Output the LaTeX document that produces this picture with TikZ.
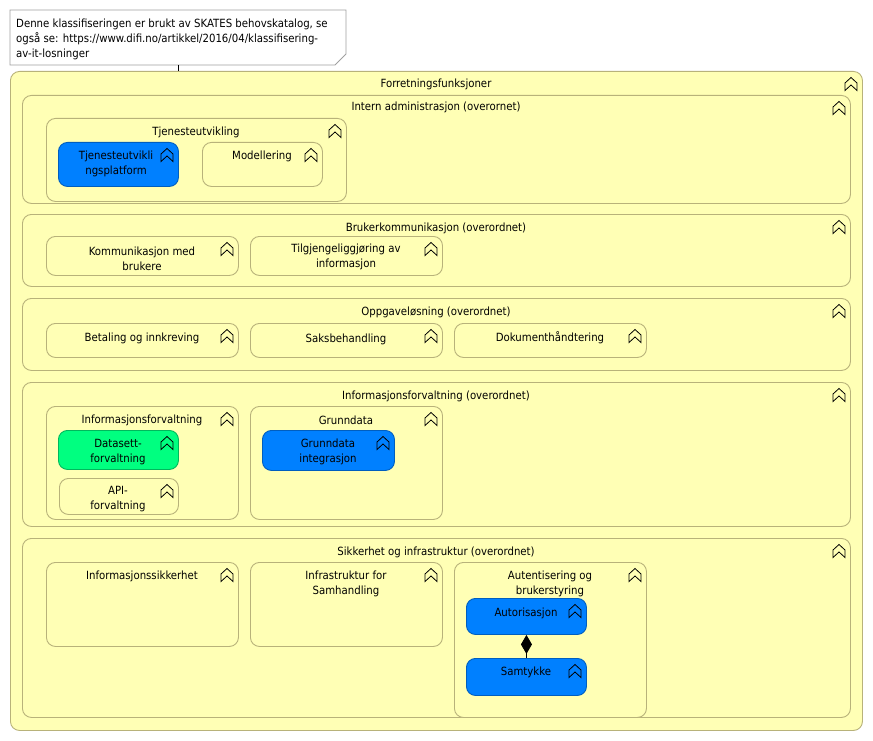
\documentclass[tikz,border=0pt]{standalone}
\usepackage{fontspec}
\setmainfont{DejaVu Sans Condensed}
\usetikzlibrary{arrows.meta}

\definecolor{funcfill}{HTML}{FFFFB5}
\definecolor{funcline}{HTML}{B8B27A}
\definecolor{bluefill}{HTML}{0080FF}
\definecolor{blueline}{HTML}{005EBF}
\definecolor{greenfill}{HTML}{00FF80}
\definecolor{greenline}{HTML}{00B85C}
\definecolor{noteline}{HTML}{A0A0A0}

\tikzset{
  fnbox/.style={draw=funcline, fill=funcfill, line width=0.9pt, rounded corners=9pt,
    rectangle, inner sep=0pt, anchor=north west},
  fnblue/.style={fnbox, draw=blueline, fill=bluefill},
  fngreen/.style={fnbox, draw=greenline, fill=greenfill},
  lbl/.style={font=\fontsize{11.3}{15}\selectfont, align=center, inner sep=0pt,
    text=black, yshift=-1pt},
  fnicon/.pic={
    \draw[line width=0.8pt, line join=miter]
      (-6,6.5) -- (-6,-1) -- (0,-6.5) -- (6,-1) -- (6,6.5) -- (0,1) -- cycle;
  }
}

% #1 name, #2 left, #3 top, #4 right, #5 bottom, #6 style
\newcommand\fnelem[6]{%
  \pgfmathsetmacro\elw{#4-#2}%
  \pgfmathsetmacro\elh{#5-#3}%
  \node[#6, minimum width=\elw pt, minimum height=\elh pt] (#1) at (#2,#3) {};
  \pic at (#4-11,#3+13) {fnicon};
}

\begin{document}
\begin{tikzpicture}[x=1pt, y=-1pt]
\useasboundingbox (0,0) rectangle (873,741);

% outer function
\fnelem{forr}{10}{71}{862}{730}{fnbox}
\node[lbl] (t-forr) at (436,83) {Forretningsfunksjoner};

% note and its link
\draw[noteline, fill=white, line width=0.9pt]
  (10,10) -- (346,10) -- (346,54) -- (335,65) -- (10,65) -- cycle;
\node[lbl, align=left, anchor=north west, yshift=0pt] (note) at (16,17.5)
  {Denne klassifiseringen er brukt av SKATES behovskatalog, se\\
   også se: https://www.difi.no/artikkel/2016/04/klassifisering-\\
   av-it-losninger};
\coordinate (note-s) at (178,65);
\draw[line width=0.9pt] (note-s) -- (note-s |- forr.north);

% Intern administrasjon
\fnelem{intern}{22}{95}{850}{203}{fnbox}
\node[lbl] (t-intern) at (436,106) {Intern administrasjon (overornet)};
\fnelem{tjen}{46}{118}{346}{201}{fnbox}
\node[lbl] (t-tjen) at (196,131) {Tjenesteutvikling};
\fnelem{tplat}{58}{142}{178}{186}{fnblue}
\node[lbl] (t-tplat) at (116,162.5) {Tjenesteutvikli\\ngsplatform};
\fnelem{model}{202}{142}{322}{186}{fnbox}
\node[lbl] (t-model) at (262,155) {Modellering};

% Brukerkommunikasjon
\fnelem{bruk}{22}{214}{850}{286}{fnbox}
\node[lbl] (t-bruk) at (436,227) {Brukerkommunikasjon (overordnet)};
\fnelem{komm}{46}{236}{238}{275}{fnbox}
\node[lbl] (t-komm) at (142,258) {Kommunikasjon med\\brukere};
\fnelem{tilg}{250}{236}{442}{275}{fnbox}
\node[lbl] (t-tilg) at (346,255.5) {Tilgjengeliggjøring av\\informasjon};

% Oppgaveløsning
\fnelem{oppg}{22}{298}{850}{370}{fnbox}
\node[lbl] (t-oppg) at (436,311) {Oppgaveløsning (overordnet)};
\fnelem{betal}{46}{323}{238}{357}{fnbox}
\node[lbl] (t-betal) at (142,337) {Betaling og innkreving};
\fnelem{saks}{250}{323}{442}{357}{fnbox}
\node[lbl] (t-saks) at (346,338) {Saksbehandling};
\fnelem{dok}{454}{323}{646}{357}{fnbox}
\node[lbl] (t-dok) at (550,337) {Dokumenthåndtering};

% Informasjonsforvaltning
\fnelem{infof}{22}{382}{850}{526}{fnbox}
\node[lbl] (t-infof) at (436,395) {Informasjonsforvaltning (overordnet)};
\fnelem{infoin}{46}{406}{238}{519}{fnbox}
\node[lbl] (t-infoin) at (142,419) {Informasjonsforvaltning};
\fnelem{dataset}{58}{430}{178}{469}{fngreen}
\node[lbl] (t-dataset) at (118,451) {Datasett-\\forvaltning};
\fnelem{api}{59}{478}{178}{514}{fnbox}
\begin{scope}
  \clip (59,478) rectangle (178,512);
  \node[lbl] (t-api) at (118,498) {API-\\forvaltning};
\end{scope}
\fnelem{grunn}{250}{406}{442}{519}{fnbox}
\node[lbl] (t-grunn) at (346,419) {Grunndata};
\fnelem{gint}{262}{430}{394}{470}{fnblue}
\node[lbl] (t-gint) at (328,450.5) {Grunndata\\integrasjon};

% Sikkerhet og infrastruktur
\fnelem{sikk}{22}{538}{850}{717}{fnbox}
\node[lbl] (t-sikk) at (436,551) {Sikkerhet og infrastruktur (overordnet)};
\fnelem{infsikk}{46}{562}{238}{646}{fnbox}
\node[lbl] (t-infsikk) at (142,575) {Informasjonssikkerhet};
\fnelem{infra}{250}{562}{442}{646}{fnbox}
\node[lbl] (t-infra) at (346,582.5) {Infrastruktur for\\Samhandling};
\fnelem{aut}{454}{562}{646}{717}{fnbox}
\node[lbl] (t-aut) at (550,582.5) {Autentisering og\\brukerstyring};
\fnelem{autor}{466}{598}{586}{634}{fnblue}
\node[lbl] (t-autor) at (526,612) {Autorisasjon};
\fnelem{samt}{466}{658}{586}{695}{fnblue}
\node[lbl] (t-samt) at (526,671) {Samtykke};

% composition
\draw[line width=0.9pt, {Diamond[length=19pt, width=11pt]}-] (autor.south) -- (samt.north);

\end{tikzpicture}
\end{document}
